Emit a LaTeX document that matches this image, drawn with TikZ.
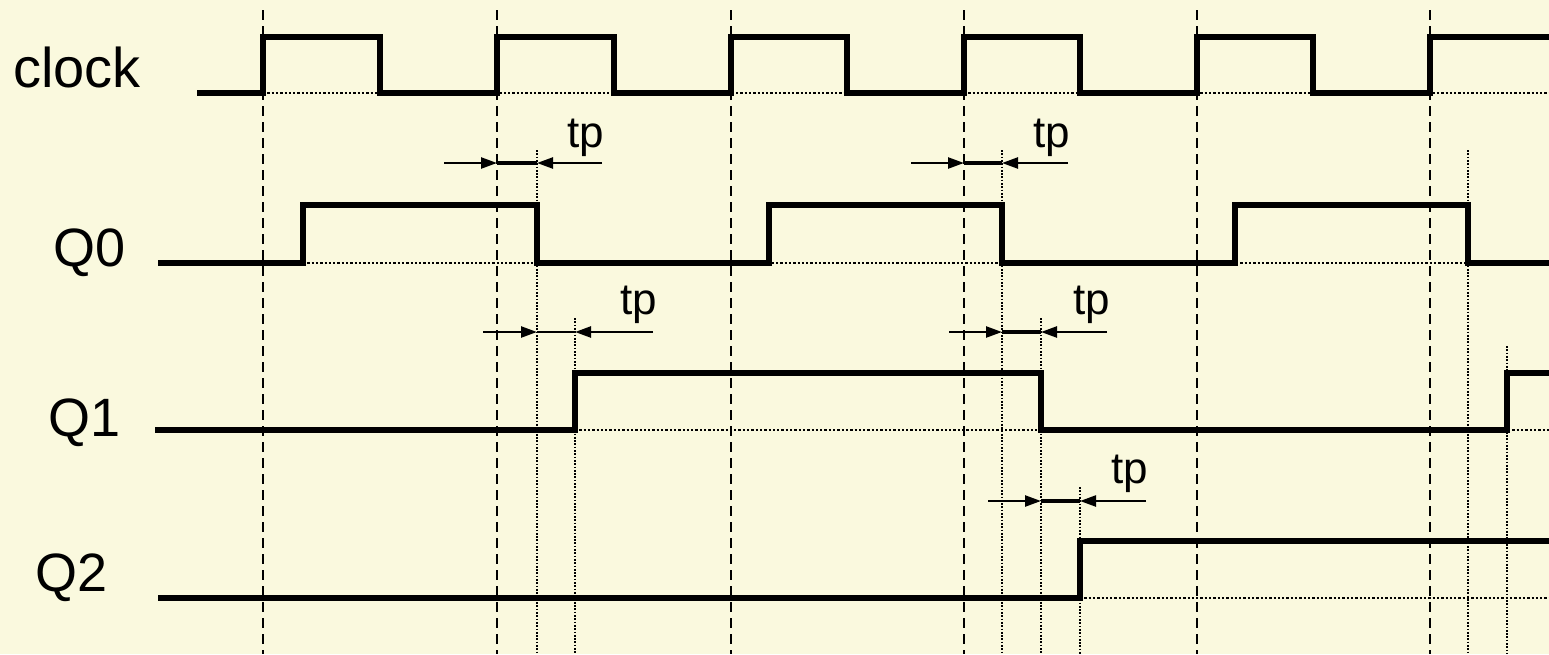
\documentclass[tikz,border=0pt]{standalone}
\usepackage{fontspec}
\setmainfont{Liberation Sans}
\usetikzlibrary{arrows.meta}
\definecolor{bgcol}{RGB}{250,249,222}
\tikzset{
  sig/.style={line width=6pt, line join=miter},
  clkline/.style={line width=2.5pt, dash pattern=on 10pt off 6pt},
  dotv/.style={line width=1.7pt, dash pattern=on 1.7pt off 1.6pt},
  doth/.style={line width=2.3pt, dash pattern=on 2.3pt off 2pt},
  tparrow/.style={line width=2.4pt, -{Triangle[length=16pt,width=11pt]}},
  tpmid/.style={line width=3.4pt},
  lbl/.style={font=\fontsize{54}{54}\selectfont, anchor=base west, inner sep=0pt},
  tplbl/.style={font=\fontsize{44}{44}\selectfont, anchor=base west, inner sep=0pt}
}
\begin{document}
\begin{tikzpicture}[x=1pt,y=-1pt]
\fill[bgcol] (0,0) rectangle (1549,654);
\useasboundingbox (0,0) rectangle (1549,654);

% clock edge reference lines
\foreach \x in {263,497,731,964,1197,1430}
  \draw[clkline] (\x,10) -- (\x,654);

% propagation reference lines
\foreach \x in {537,1002,1468} \draw[dotv] (\x,150) -- (\x,654);
\draw[dotv] (575,318) -- (575,654);
\draw[dotv] (1041,318) -- (1041,654);
\draw[dotv] (1507,346) -- (1507,654);
\draw[dotv] (1080,487) -- (1080,654);

% low-level dotted baselines
\draw[doth] (263,93) -- (1549,93);
\draw[doth] (303,263) -- (1549,263);
\draw[doth] (575,430) -- (1549,430);
\draw[doth] (1080,598) -- (1549,598);

% labels
\node[lbl,font=\fontsize{56}{56}\selectfont] (lclk) at (13,87) {clock};
\node[lbl] (lq0) at (53,266) {Q0};
\node[lbl] (lq1) at (48,436) {Q1};
\node[lbl] (lq2) at (35,591) {Q2};

% signals
\draw[sig] (197,93) -| (263,37) -| (380,93) -| (497,37) -| (614,93) -| (731,37)
  -| (847,93) -| (964,37) -| (1080,93) -| (1197,37) -| (1313,93) -| (1430,37) -- (1549,37);
\draw[sig] (158,263) -| (303,205) -| (537,263) -| (769,205) -| (1002,263)
  -| (1235,205) -| (1468,263) -- (1549,263);
\draw[sig] (155,430) -| (575,373) -| (1041,430) -| (1507,373) -- (1549,373);
\draw[sig] (158,598) -| (1080,541) -- (1549,541);

% tp markers
\coordinate (a1s) at (444,163); \coordinate (a1l) at (497,163);
\coordinate (a1r) at (537,163); \coordinate (a1e) at (602,163);
\draw[tparrow] (a1s) -- (a1l);
\draw[tpmid] (a1l) -- (a1r);
\draw[tparrow] (a1e) -- (a1r);
\node[tplbl] (tp1) at (567,147) {tp};

\coordinate (a2s) at (911,163); \coordinate (a2l) at (964,163);
\coordinate (a2r) at (1002,163); \coordinate (a2e) at (1068,163);
\draw[tparrow] (a2s) -- (a2l);
\draw[tpmid] (a2l) -- (a2r);
\draw[tparrow] (a2e) -- (a2r);
\node[tplbl] (tp2) at (1033,147) {tp};

\coordinate (a3s) at (483,332); \coordinate (a3l) at (537,332);
\coordinate (a3r) at (575,332); \coordinate (a3e) at (653,332);
\draw[tparrow] (a3s) -- (a3l);
\draw[line width=2.4pt] (a3l) -- (a3r);
\draw[tparrow] (a3e) -- (a3r);
\node[tplbl] (tp3) at (620,314) {tp};

\coordinate (a4s) at (949,332); \coordinate (a4l) at (1002,332);
\coordinate (a4r) at (1041,332); \coordinate (a4e) at (1107,332);
\draw[tparrow] (a4s) -- (a4l);
\draw[tpmid] (a4l) -- (a4r);
\draw[tparrow] (a4e) -- (a4r);
\node[tplbl] (tp4) at (1073,314) {tp};

\coordinate (a5s) at (988,501); \coordinate (a5l) at (1041,501);
\coordinate (a5r) at (1080,501); \coordinate (a5e) at (1146,501);
\draw[tparrow] (a5s) -- (a5l);
\draw[tpmid] (a5l) -- (a5r);
\draw[tparrow] (a5e) -- (a5r);
\node[tplbl] (tp5) at (1111,483) {tp};
\end{tikzpicture}
\end{document}
